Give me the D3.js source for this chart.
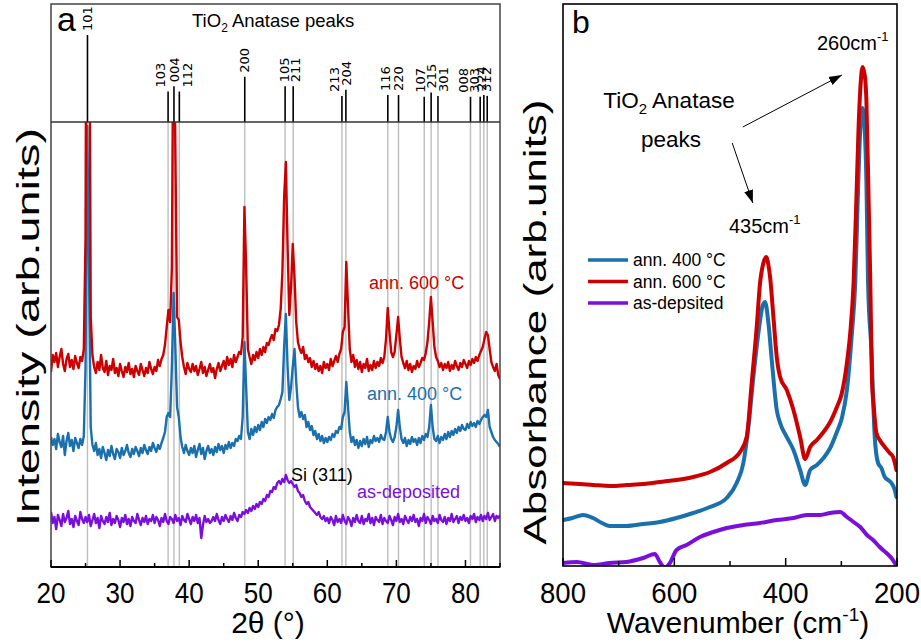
<!DOCTYPE html>
<html><head><meta charset="utf-8">
<script src="https://cdn.jsdelivr.net/npm/d3@7"></script>
<style>
body{margin:0;background:#fff;}
svg text{font-family:"Liberation Sans",Arial,sans-serif;}
</style></head>
<body><svg id="c" width="921" height="643"></svg>
<script>
// ---------- Panel a data (XRD) ----------
const twoThetaStart = 20, twoThetaStep = 0.25;
const xrd600 = [195,212,205,214,200,210,218,203,196,208,213,200,207,198,211,204,199,210,206,218,
330,900,700,250,212,200,194,205,197,212,199,195,206,192,201,197,208,194,199,191,
203,196,190,200,195,204,193,198,190,201,196,192,203,197,191,199,194,205,198,193,
200,196,207,201,208,212,222,240,257,245,300,600,420,250,247,225,210,200,193,204,
198,195,203,196,201,192,198,205,194,200,191,197,203,195,199,189,198,204,196,201,
206,198,210,202,208,200,212,205,210,215,213,230,360,300,218,210,203,212,207,215,
209,218,212,220,215,224,222,228,232,227,238,236,242,258,295,370,405,320,252,280,
323,290,245,225,218,214,220,208,212,205,209,200,206,198,203,196,201,194,205,199,
203,197,208,201,206,211,205,213,218,235,240,305,260,218,205,212,200,207,198,205,
195,203,199,208,196,202,197,206,199,205,201,209,204,210,228,259,235,215,210,215,
232,250,228,210,204,199,206,197,203,195,201,198,206,200,204,209,207,214,225,245,
270,245,220,210,206,200,204,197,203,199,205,196,202,198,206,201,197,204,200,207,
203,199,206,202,208,204,210,206,212,216,220,228,235,232,218,205,200,196,203,192,188];
const xrd400 = [130,122,128,118,133,125,120,131,112,126,134,121,127,116,129,124,119,128,122,131,
200,441,300,140,122,116,124,112,118,109,120,114,107,117,111,121,113,108,118,115,
109,119,112,116,122,114,110,118,113,120,116,111,119,114,122,117,113,120,116,124,
119,115,122,118,124,129,135,150,154,150,200,274,220,160,150,130,120,114,122,116,
112,119,114,121,110,117,123,113,119,108,116,121,114,118,112,120,115,123,117,121,
114,122,118,125,119,124,121,128,126,131,128,150,225,180,135,128,138,132,140,135,
142,137,145,140,148,144,150,147,153,149,157,160,162,168,175,220,253,200,167,180,
200,218,185,160,150,155,148,152,140,145,137,141,132,136,128,133,126,131,124,129,
125,130,127,133,130,136,134,140,138,150,155,185,160,135,125,130,122,127,119,126,
121,128,123,130,120,127,124,131,126,129,125,132,128,127,135,150,135,128,125,130,
140,157,140,128,124,129,121,127,123,130,125,128,122,129,124,131,127,133,130,140,
162,140,128,126,131,124,130,127,133,128,135,130,136,132,138,134,140,136,142,138,
137,143,139,145,141,144,140,146,143,147,150,152,150,157,140,135,130,127,125,123,120];
const xrdAsDep = [55,44,50,38,52,47,41,53,45,49,56,43,48,40,51,46,42,55,48,44,
50,45,52,41,47,53,44,49,39,51,46,43,50,45,54,42,48,44,51,47,
40,49,45,52,43,48,41,50,46,44,53,47,42,49,45,51,43,48,46,52,
44,50,47,41,49,45,53,46,43,50,48,44,52,46,49,42,51,47,45,53,
48,43,50,46,52,44,49,29,42,51,45,48,44,46,50,46,53,47,43,50,
46,52,48,45,51,47,54,49,46,52,50,55,53,57,54,59,56,61,58,63,
60,65,63,68,66,72,70,76,75,80,78,84,86,83,88,85,92,87,84,86,
83,80,82,76,74,70,72,66,63,65,60,58,56,54,52,55,50,48,51,46,
49,44,50,47,42,51,45,48,44,52,46,43,50,47,41,49,45,52,46,44,
51,43,48,46,53,44,49,42,50,47,45,52,43,49,46,44,51,47,42,50,
46,53,45,48,43,51,47,44,50,46,52,45,48,41,49,46,53,44,50,47,
43,51,46,48,44,52,47,45,50,43,49,46,53,45,48,51,44,50,47,52,
46,49,44,51,48,53,45,50,47,52,46,51,48,54,47,50,53,46,51,49,52];
const anataseHKL = ["101","103","004","112","200","105","211","213","204","116","220","107","215","301","008","303","224","312"];
const anatasePos = [25.28,36.95,37.80,38.58,48.05,53.89,55.06,62.12,62.69,68.76,70.31,74.03,75.03,76.02,80.73,82.13,82.66,83.15];
const anataseRel = [100,35,41,35,52,41,41,30,37,31,31,29,34,30,29,29,31,30];
const xTicksA = [20,30,40,50,60,70,80];
const xMinorA = [25,35,45,55,65,75,85];

// ---------- Panel b data (absorbance) ----------
const wn600 = [800,770,745,715,685,655,626,596,566,536,506,482,470,461,452,446,440,435,431,428,422,416,410,398,386,374,365,356,344,332,320,308,299,290,284,278,273,269,266,262,258,255,251,248,245,242,237,231,222,213,207,201];
const abs600 = [83,82,81,80,81,82,84,86,89,94,103,114,129,183,239,283,303,309,301,289,249,209,189,176,156,129,107,119,126,134,144,159,173,203,233,283,366,439,476,499,491,466,366,286,186,161,133,126,119,113,109,96];
const wn400 = [800,783,764,746,730,716,686,656,626,596,566,536,506,488,476,467,458,449,441,437,431,425,416,410,398,386,374,365,356,344,332,320,308,299,290,281,275,270,266,262,258,255,252,246,240,234,228,222,216,210,204,201];
const abs400 = [46,48,51,48,43,40,40,42,44,48,53,59,68,83,103,139,189,233,261,264,243,206,156,143,129,116,96,81,96,101,108,118,134,148,176,233,283,376,436,458,436,386,283,216,129,103,98,89,86,83,76,69];
const wnAsDep = [800,775,746,716,686,656,635,626,617,608,596,578,554,530,506,476,446,416,386,362,338,320,302,290,278,266,254,243,231,219,210,204,201];
const absAsDep = [3,4,1,3,4,8,12,4,-2,3,16,21,29,34,38,41,43,46,48,51,51,53,54,49,44,39,31,26,19,13,8,3,0];
const xTicksB = [800,600,400,200];
const xMinorB = [700,500,300];

// layout-only nudges for the crowded hkl labels (px)
const labelNudge = [0,-8,0,8,0,-1,2,-8,0,-3,0,-4,0,5,-7,-6,-3,-1];

const cRed = "#cc0000", cBlue = "#1a6fad", cPurple = "#7a0fdc";
const svg = d3.select("#c");

// ---------- Panel a ----------
const xA = d3.scaleLinear().domain([20,85]).range([51,500]);
const yA = d3.scaleLinear().domain([0,445]).range([567,122]);
const yStick = d3.scaleLinear().domain([0,100]).range([122,35]);

svg.append("clipPath").attr("id","clipA").append("rect").attr("x",51).attr("y",122).attr("width",449).attr("height",445);
svg.append("clipPath").attr("id","clipB").append("rect").attr("x",563).attr("y",4).attr("width",334).attr("height",562);

const gA = svg.append("g");
gA.selectAll("line.ref").data(anatasePos).join("line")
  .attr("x1",d=>xA(d)).attr("x2",d=>xA(d)).attr("y1",yA(445)).attr("y2",yA(0))
  .attr("stroke","#bdbdbd").attr("stroke-width",1.4);
gA.selectAll("line.stick").data(anatasePos).join("line")
  .attr("x1",d=>xA(d)).attr("x2",d=>xA(d)).attr("y1",122).attr("y2",(d,i)=>yStick(anataseRel[i]))
  .attr("stroke","#000").attr("stroke-width",1.6);
gA.selectAll("text.hkl").data(anatasePos).join("text")
  .attr("transform",(d,i)=>`translate(${xA(d)+labelNudge[i]+4.7},${yStick(anataseRel[i])-4}) rotate(-90)`)
  .style("font-family","'DejaVu Sans',sans-serif").style("font-size","13px")
  .text((d,i)=>anataseHKL[i]);

const lineA = d3.line().x((d,i)=>xA(twoThetaStart+i*twoThetaStep)).y(d=>yA(d));
const curvesA = gA.append("g").attr("clip-path","url(#clipA)");
[[xrdAsDep,cPurple],[xrd400,cBlue],[xrd600,cRed]].forEach(([arr,c])=>{
  curvesA.append("path").attr("d",lineA(arr)).attr("fill","none").attr("stroke",c)
    .attr("stroke-width",2.4).attr("stroke-linejoin","round");
});
gA.append("rect").attr("x",51).attr("y",4).attr("width",449).attr("height",563)
  .attr("fill","none").attr("stroke","#444").attr("stroke-width",1.5);
gA.append("line").attr("x1",51).attr("x2",500).attr("y1",122).attr("y2",122).attr("stroke","#333").attr("stroke-width",1.5);
gA.append("line").attr("x1",51).attr("x2",500).attr("y1",567).attr("y2",567).attr("stroke","#000").attr("stroke-width",1.8);
gA.selectAll("line.tk").data(xTicksA).join("line").attr("x1",d=>xA(d)).attr("x2",d=>xA(d))
  .attr("y1",567).attr("y2",560).attr("stroke","#000").attr("stroke-width",1.5);
gA.selectAll("line.mtk").data(xMinorA).join("line").attr("x1",d=>xA(d)).attr("x2",d=>xA(d))
  .attr("y1",567).attr("y2",563).attr("stroke","#000").attr("stroke-width",1.5);
gA.selectAll("text.tl").data(xTicksA).join("text").attr("x",d=>xA(d)).attr("y",603)
  .attr("text-anchor","middle").style("font-size","29px").attr("textLength",29).attr("lengthAdjust","spacingAndGlyphs").text(d=>d);
svg.append("text").attr("x",268).attr("y",633).attr("text-anchor","middle").style("font-size","30px").text("2θ (°)");
svg.append("text").attr("transform","translate(39,327) rotate(-90)").attr("text-anchor","middle")
  .style("font-size","31px").attr("textLength",398).attr("lengthAdjust","spacingAndGlyphs").text("Intensity (arb.units)");
svg.append("text").attr("x",57).attr("y",31).style("font-size","34px").text("a");
const t1 = svg.append("text").attr("x",192).attr("y",27).style("font-size","18.5px");
t1.append("tspan").text("TiO");
t1.append("tspan").attr("dy",5).style("font-size","12px").text("2");
t1.append("tspan").attr("dy",-5).text(" Anatase peaks");
svg.append("text").attr("x",369).attr("y",289).style("font-size","18px").attr("fill",cRed).text("ann. 600 °C");
svg.append("text").attr("x",367).attr("y",400).style("font-size","18px").attr("fill",cBlue).text("ann. 400 °C");
svg.append("text").attr("x",291).attr("y",481).style("font-size","18px").attr("fill","#000").text("Si (311)");
svg.append("text").attr("x",357).attr("y",498).style("font-size","18px").attr("fill",cPurple).text("as-deposited");

// ---------- Panel b ----------
const xB = d3.scaleLinear().domain([800,200]).range([563,897]);
const yB = d3.scaleLinear().domain([0,562]).range([566,4]);
const gB = svg.append("g");
const curvesB = gB.append("g").attr("clip-path","url(#clipB)");
const lineB = d3.line().curve(d3.curveMonotoneX);
[[wnAsDep,absAsDep,cPurple],[wn400,abs400,cBlue],[wn600,abs600,cRed]].forEach(([w,a,c])=>{
  curvesB.append("path").attr("d",lineB(w.map((v,i)=>[xB(v),yB(a[i])])))
    .attr("fill","none").attr("stroke",c).attr("stroke-width",4).attr("stroke-linejoin","round").attr("stroke-linecap","round");
});
gB.append("rect").attr("x",563).attr("y",4).attr("width",334).attr("height",562)
  .attr("fill","none").attr("stroke","#000").attr("stroke-width",1.6);
gB.selectAll("line.tk").data(xTicksB).join("line").attr("x1",d=>xB(d)).attr("x2",d=>xB(d))
  .attr("y1",566).attr("y2",558).attr("stroke","#000").attr("stroke-width",1.5);
gB.selectAll("line.mtk").data(xMinorB).join("line").attr("x1",d=>xB(d)).attr("x2",d=>xB(d))
  .attr("y1",566).attr("y2",561).attr("stroke","#000").attr("stroke-width",1.5);
gB.selectAll("text.tl").data(xTicksB).join("text").attr("x",d=>xB(d)).attr("y",603)
  .attr("text-anchor","middle").style("font-size","29px").attr("textLength",46).attr("lengthAdjust","spacingAndGlyphs").text(d=>d);
const wt = svg.append("text").attr("x",738).attr("y",633).attr("text-anchor","middle").style("font-size","30px");
wt.append("tspan").text("Wavenumber (cm");
wt.append("tspan").attr("dy",-12).style("font-size","19px").text("-1");
wt.append("tspan").attr("dy",12).text(")");
svg.append("text").attr("transform","translate(546,322) rotate(-90)").attr("text-anchor","middle")
  .style("font-size","31px").attr("textLength",445).attr("lengthAdjust","spacingAndGlyphs").text("Absorbance (arb.units)");
svg.append("text").attr("x",572).attr("y",33).style("font-size","32px").text("b");

function supText(x,y,base){
  const t = svg.append("text").attr("x",x).attr("y",y).style("font-size","20px");
  t.append("tspan").text(base);
  t.append("tspan").attr("dy",-9).style("font-size","13px").text("-1");
}
supText(817,50,"260cm");
supText(729,233,"435cm");
const tt = svg.append("text").attr("x",669).attr("y",108).attr("text-anchor","middle").style("font-size","22.5px");
tt.append("tspan").text("TiO");
tt.append("tspan").attr("dy",6).style("font-size","15px").text("2");
tt.append("tspan").attr("dy",-6).text(" Anatase");
svg.append("text").attr("x",671).attr("y",147).attr("text-anchor","middle").style("font-size","22.5px").text("peaks");

const defs = svg.append("defs");
defs.append("marker").attr("id","ah").attr("viewBox","0 0 10 10").attr("refX",10).attr("refY",5)
  .attr("markerWidth",13).attr("markerHeight",13).attr("markerUnits","userSpaceOnUse").attr("orient","auto")
  .append("path").attr("d","M0,1.5 L10,5 L0,8.5 Z").attr("fill","#000");
const arrows = [[477,439,299,491],[496,423,459,363]];
arrows.forEach(a=>{
  svg.append("line").attr("x1",xB(a[0])).attr("y1",yB(a[1])).attr("x2",xB(a[2])).attr("y2",yB(a[3]))
    .attr("stroke","#000").attr("stroke-width",1).attr("marker-end","url(#ah)");
});

const legendNames = ["ann. 400 °C","ann. 600 °C","as-depsited"];
const legendColors = [cBlue,cRed,cPurple];
legendNames.forEach((n,i)=>{
  const y = 260 + i*21.5;
  svg.append("line").attr("x1",588).attr("x2",628).attr("y1",y).attr("y2",y).attr("stroke",legendColors[i]).attr("stroke-width",3.5);
  svg.append("text").attr("x",633).attr("y",y+6).style("font-size","17.5px").text(n);
});
</script></body></html>
